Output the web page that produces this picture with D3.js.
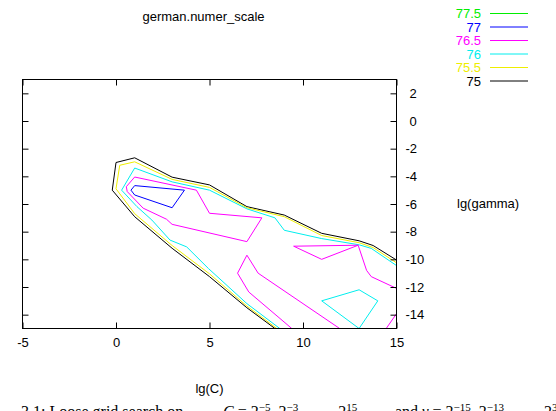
<!DOCTYPE html>
<html>
<head>
<meta charset="utf-8">
<script src="https://cdn.jsdelivr.net/npm/d3@7"></script>
<style>
  body { margin: 0; background: #fff; }
  svg text { font-family: "Liberation Sans", Arial, sans-serif; font-size: 13px; }
  .caption { font-family: "Liberation Serif", "DejaVu Serif", serif; font-size: 16px; }
</style>
</head>
<body>
<div id="chart"></div>
<script>
// 1. Data
// contour levels as listed in the key (top to bottom)
var levels = [77.5, 77, 76.5, 76, 75.5, 75];
var levelLabels = ["77.5", "77", "76.5", "76", "75.5", "75"];
var xTicks = [-5, 0, 5, 10, 15];
var yTicks = [2, 0, -2, -4, -6, -8, -10, -12, -14];

// contour lines, [lg(C), lg(gamma)] pairs
var c75 = [[15, -10.05], [13.75, -9.0], [13, -8.66], [11, -8.12], [9, -6.8], [7, -6.19],
  [5, -4.62], [3, -4.06], [1, -2.66], [0, -3.0], [-0.2, -5.0], [1, -6.92], [3, -9.2],
  [5, -11.25], [7, -13.5], [8.5, -15]];
var c755 = [[15, -10.25], [13.75, -9.15], [13, -8.8], [11, -8.28], [9, -6.92], [7, -6.27],
  [5, -4.8], [3, -4.22], [1, -2.95], [0.2, -3.2], [0, -4.9], [1, -6.7], [3, -9.0],
  [5, -11.05], [7, -13.38], [8.6, -15]];
var c76a = [[15, -10.45], [13.65, -9.21], [13, -8.95], [11, -8.5], [9, -7.9], [8.5, -7.0],
  [7, -6.35], [5, -5.0], [3, -4.4], [1, -3.4], [0.3, -5.0], [1.12, -6.19], [1.92, -7.16],
  [2.89, -8.61], [3.78, -9.1], [4.94, -10.66], [7, -13.2], [8.76, -15]];
var c76b = [[13, -15], [11, -13], [13, -12.2], [14, -13], [13, -15]];
var c765a = [[1, -4.05], [0.55, -4.75], [0.6, -5.1], [1.45, -6.3], [2.7, -7.1], [3, -7.47],
  [7, -8.72], [7.8, -7.0], [5, -6.67], [4.3, -5.0], [1, -4.05]];
var c765b = [[9.5, -9.05], [12.95, -8.98], [11, -10.0], [9.5, -9.05]];
var c765c = [[12.95, -8.98], [13.4, -10.8], [13.65, -11.25], [15, -12.1]];
var c765d = [[9.4, -15], [7.1, -12.36], [6.5, -11.0], [7, -9.7], [7.6, -11.0], [11.96, -15]];
var c765e = [[14.45, -15], [15, -13.93]];
var c77 = [[1, -4.67], [3.66, -5.0], [3, -6.27], [1, -5.35], [0.8, -5.0], [1, -4.67]];

var pieces = [
  {level: 75, pts: c75},
  {level: 75.5, pts: c755},
  {level: 76, pts: c76a},
  {level: 76, pts: c76b},
  {level: 76.5, pts: c765a},
  {level: 76.5, pts: c765b},
  {level: 76.5, pts: c765c},
  {level: 76.5, pts: c765d},
  {level: 76.5, pts: c765e},
  {level: 77, pts: c77}
];

// 2. SVG + scales
var svg = d3.select("#chart").append("svg")
  .attr("width", 556)
  .attr("height", 411);

var box = { left: 22.5, right: 396.5, top: 79.5, bottom: 328.5 };

var xScale = d3.scaleLinear().domain([-5, 15]).range([box.left, box.right]);
var yScale = d3.scaleLinear().domain([-15, 3]).range([box.bottom, box.top]);

var colorScale = d3.scaleOrdinal()
  .domain(levels)
  .range(["#00ee00", "#0000ff", "#ff00ff", "#00eeee", "#eeee00", "#000000"]);

// 3. contours
svg.append("clipPath").attr("id", "plot-clip")
  .append("rect")
  .attr("x", box.left).attr("y", box.top)
  .attr("width", box.right - box.left).attr("height", box.bottom - box.top);

var line = d3.line()
  .x(function(d) { return xScale(d[0]); })
  .y(function(d) { return yScale(d[1]); });

svg.append("g")
  .attr("clip-path", "url(#plot-clip)")
  .selectAll("path")
  .data(pieces)
  .enter()
  .append("path")
  .attr("d", function(d) { return line(d.pts); })
  .attr("fill", "none")
  .attr("stroke", function(d) { return colorScale(d.level); })
  .attr("stroke-width", 1);

// 4. frame and axes (ticks point inward on all four sides)
var fmt = function(d) { return String(d); };

svg.append("g")
  .attr("transform", "translate(0," + box.bottom + ")")
  .call(d3.axisBottom(xScale).tickValues(xTicks).tickFormat(fmt).tickSize(-6).tickPadding(9).tickSizeOuter(0))
  .call(function(g) { g.select(".domain").remove(); });

svg.append("g")
  .attr("transform", "translate(0," + box.top + ")")
  .call(d3.axisTop(xScale).tickValues(xTicks).tickFormat("").tickSize(-6).tickSizeOuter(0))
  .call(function(g) { g.select(".domain").remove(); });

svg.append("g")
  .attr("transform", "translate(" + box.left + ",0)")
  .call(d3.axisLeft(yScale).tickValues(yTicks).tickFormat("").tickSize(-6).tickSizeOuter(0))
  .call(function(g) { g.select(".domain").remove(); });

svg.append("g")
  .attr("transform", "translate(" + box.right + ",0)")
  .call(d3.axisRight(yScale).tickValues(yTicks).tickFormat(fmt).tickSize(-6).tickPadding(9).tickSizeOuter(0))
  .call(function(g) {
    g.select(".domain").remove();
    g.selectAll("text").attr("dx", function(d) { return d >= 0 ? 4 : 0; });
  });

svg.selectAll(".tick text")
  .style("font-family", '"Liberation Sans", Arial, sans-serif')
  .style("font-size", "13px")
  .attr("fill", "#000");

svg.append("rect")
  .attr("x", box.left).attr("y", box.top)
  .attr("width", box.right - box.left).attr("height", box.bottom - box.top)
  .attr("fill", "none")
  .attr("stroke", "#000");

// labels
svg.append("text")
  .attr("x", 203.5).attr("y", 21)
  .attr("text-anchor", "middle")
  .text("german.numer_scale");

svg.append("text")
  .attr("x", (box.left + box.right) / 2).attr("y", 393)
  .attr("text-anchor", "middle")
  .text("lg(C)");

svg.append("text")
  .attr("x", 457).attr("y", 208)
  .text("lg(gamma)");

// key
var key = svg.append("g").selectAll("g")
  .data(levels)
  .enter()
  .append("g")
  .attr("transform", function(d, i) { return "translate(0," + (13.5 + i * 13.5) + ")"; });

key.append("text")
  .attr("x", 481).attr("y", 4.7)
  .attr("text-anchor", "end")
  .attr("fill", function(d) { return colorScale(d); })
  .text(function(d, i) { return levelLabels[i]; });

key.append("line")
  .attr("x1", 490).attr("x2", 528)
  .attr("stroke", function(d) { return colorScale(d); });

// caption of the page below, cut off by the edge
function caption(x, parts) {
  var t = svg.append("text").attr("class", "caption").attr("x", x).attr("y", 416.5);
  parts.forEach(function(p) {
    var s = t.append("tspan").text(p[0]);
    if (p[1] === "sup") s.attr("dy", -6).style("font-size", "11px");
    if (p[1] === "back") s.attr("dy", 6);
    if (p[1] === "it") s.style("font-style", "italic");
  });
}
caption(21, [["3.1:  Loose grid search on"]]);
caption(223, [["C", "it"], [" = 2"], ["\u22125", "sup"], [", 2", "back"], ["\u22123", "sup"],
  [", . . . , 2", "back"], ["15", "sup"]]);
caption(395, [["and "], ["\u03b3", "it"], [" = 2"], ["\u221215", "sup"], [", 2", "back"],
  ["\u221213", "sup"], [", . . . , 2", "back"], ["3", "sup"]]);
</script>
</body>
</html>
